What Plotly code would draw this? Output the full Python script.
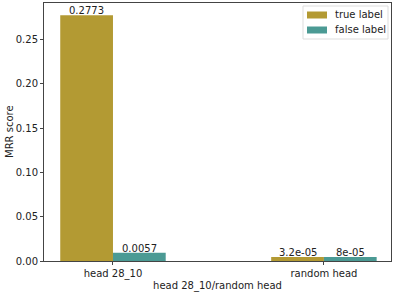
import plotly.graph_objects as go

categories = ["head 28_10", "random head"]
true_heights = [0.2773, 0.0045]
false_heights = [0.0092, 0.0045]
true_text = ["0.2773", "3.2e-05"]
false_text = ["0.0057", "8e-05"]
series_names = ["true label", "false label"]
colors = ["#b39a33", "#4b9a94"]

FONT = "DejaVu Sans, sans-serif"
FS = 10
W, H = 395, 293
L, R, T, B = 44, 4, 3, 32
PW, PH = W - L - R, H - T - B

def px(x):
    return (x - L) / PW

def py(y):
    return (H - B - y) / PH

fig = go.Figure()
annotations = []
series = [(series_names[0], true_heights, true_text, colors[0], -0.125),
          (series_names[1], false_heights, false_text, colors[1], 0.125)]
for name, ys, txt, c, off in series:
    fig.add_trace(go.Bar(x=categories, y=ys, name=name,
                         marker=dict(color=c, line=dict(width=0)),
                         showlegend=False))
    for i, (v, t) in enumerate(zip(ys, txt)):
        annotations.append(dict(xref="x", yref="y", x=i + off, y=v, text=t,
                                xanchor="center", yanchor="bottom", showarrow=False,
                                yshift=-3, font=dict(size=FS, color="#222", family=FONT)))

shapes = [dict(type="rect", xref="paper", yref="paper",
               x0=px(303), x1=px(388), y0=py(6), y1=py(39),
               line=dict(color="#dddddd", width=1), fillcolor="rgba(255,255,255,0.9)",
               layer="above")]
for i, (name, c) in enumerate(zip(series_names, colors)):
    yc = 15 + 15 * i
    shapes.append(dict(type="rect", xref="paper", yref="paper",
                       x0=px(307), x1=px(327), y0=py(yc - 3.5), y1=py(yc + 3.5),
                       line=dict(width=0), fillcolor=c, layer="above"))
    annotations.append(dict(xref="paper", yref="paper", x=px(333), y=py(yc),
                            xanchor="left", yanchor="middle", showarrow=False,
                            text=name, font=dict(size=FS, color="#222", family=FONT)))
annotations.append(dict(xref="paper", yref="paper", x=px(9), y=0.5, textangle=-90,
                        xanchor="center", yanchor="middle", showarrow=False,
                        text="MRR score", font=dict(size=FS, color="#222", family=FONT)))

fig.update_layout(
    width=W, height=H,
    margin=dict(l=L, r=R, t=T, b=B, autoexpand=False),
    paper_bgcolor="white", plot_bgcolor="white",
    barmode="group", bargap=0.5, bargroupgap=0,
    font=dict(family=FONT, size=FS, color="#222"),
    shapes=shapes, annotations=annotations,
    xaxis=dict(range=[-0.327, 1.318], showline=True, linecolor="#444", linewidth=1,
               mirror=True, ticks="outside", ticklen=3, tickcolor="#444", automargin=False,
               title=dict(text="head 28_10/random head", standoff=2, font=dict(size=FS))),
    yaxis=dict(range=[0, 0.2912], showline=True, linecolor="#444", linewidth=1,
               mirror=True, ticks="outside", ticklen=3, tickcolor="#444", automargin=False,
               tickvals=[0, 0.05, 0.10, 0.15, 0.20, 0.25], tickformat=".2f",
               showgrid=False, zeroline=False),
)
fig.write_html("out.html", config={"displayModeBar": False},
               post_script="document.body.style.margin='0';")
